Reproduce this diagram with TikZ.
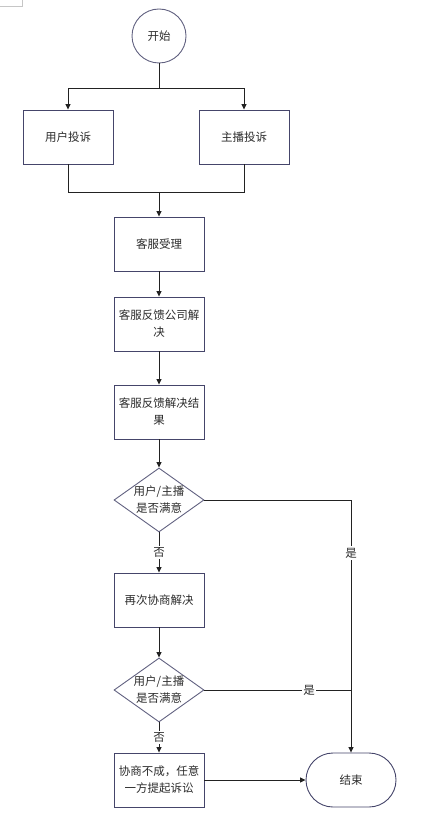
\documentclass[tikz,border=0pt]{standalone}
\usepackage{fontspec}
\setmainfont{Noto Sans CJK SC}
\usetikzlibrary{arrows.meta,shapes.geometric}
\definecolor{boxc}{HTML}{45456A}
\definecolor{txt}{HTML}{2B2B2B}
\definecolor{linec}{HTML}{222222}
\begin{document}
\begin{tikzpicture}[x=1pt,y=-1pt,
  box/.style={draw=boxc, line width=0.9pt, minimum width=90pt, minimum height=54pt, align=center, inner sep=0pt, font=\fontsize{11.5}{17}\selectfont, text=txt},
  startc/.style={circle, draw=boxc!85, line width=0.9pt, minimum size=54pt, inner sep=0pt, font=\fontsize{11.5}{17}\selectfont, text=txt},
  endc/.style={draw=boxc, line width=0.9pt, minimum width=90pt, minimum height=54pt, rounded corners=27pt, inner sep=0pt, font=\fontsize{11.5}{17}\selectfont, text=txt},
  dia/.style={diamond, draw=boxc!85, line width=0.9pt, minimum width=90pt, minimum height=64pt, inner sep=0pt},
  diatext/.style={align=center, inner sep=0pt, font=\fontsize{11.5}{17}\selectfont, text=txt},
  conn/.style={draw=linec, line width=0.8pt},
  arr/.style={conn, -{Triangle[length=5.5pt,width=5pt]}},
  lab/.style={fill=white, inner sep=1.5pt, font=\fontsize{11.5}{13}\selectfont, text=txt}
]
\useasboundingbox (0,0) rectangle (424,826);
\draw[gray!45, line width=0.6pt] (0,6) -- (22,6) -- (22,0);

\node[startc] (start) at (159,36) {开始};
\node[box] (user) at (68,137) {用户投诉};
\node[box] (host) at (244,137) {主播投诉};
\node[box] (acc) at (159,244) {客服受理};
\node[box] (fb) at (159,324) {客服反馈公司解\\决};
\node[box] (res) at (159,412) {客服反馈解决结\\果};
\node[dia] (d1) at (159,500) {};
\node[diatext] (d1t) at (159,500) {用户/主播\\是否满意};
\node[box] (again) at (159,600) {再次协商解决};
\node[dia] (d2) at (159,690) {};
\node[diatext] (d2t) at (159,690) {用户/主播\\是否满意};
\node[box] (sue) at (159,780) {协商不成，任意\\一方提起诉讼};
\node[endc] (end) at (351,780) {结束};

\coordinate (split) at (159,88);
\coordinate (merge) at (159,192);
\coordinate (cy1) at (351,500);
\coordinate (cy2) at (351,690);

\draw[conn] (start) -- (split);
\draw[arr] (split) -| (user);
\draw[arr] (split) -| (host);
\draw[conn] (user) |- (merge);
\draw[conn] (host) |- (merge);
\draw[arr] (merge) -- (acc);
\draw[arr] (acc) -- (fb);
\draw[arr] (fb) -- (res);
\draw[arr] (res) -- (d1);
\draw[arr] (d1) -- node[lab] {否} (again);
\draw[arr] (d1.east) -- (cy1) -- node[lab, pos=0.21] {是} (end);
\draw[arr] (again) -- (d2);
\draw[conn] (d2.east) -- node[lab, pos=0.714] {是} (cy2);
\draw[arr] (d2) -- node[lab] {否} (sue);
\draw[arr] (sue) -- (end);
\end{tikzpicture}
\end{document}
